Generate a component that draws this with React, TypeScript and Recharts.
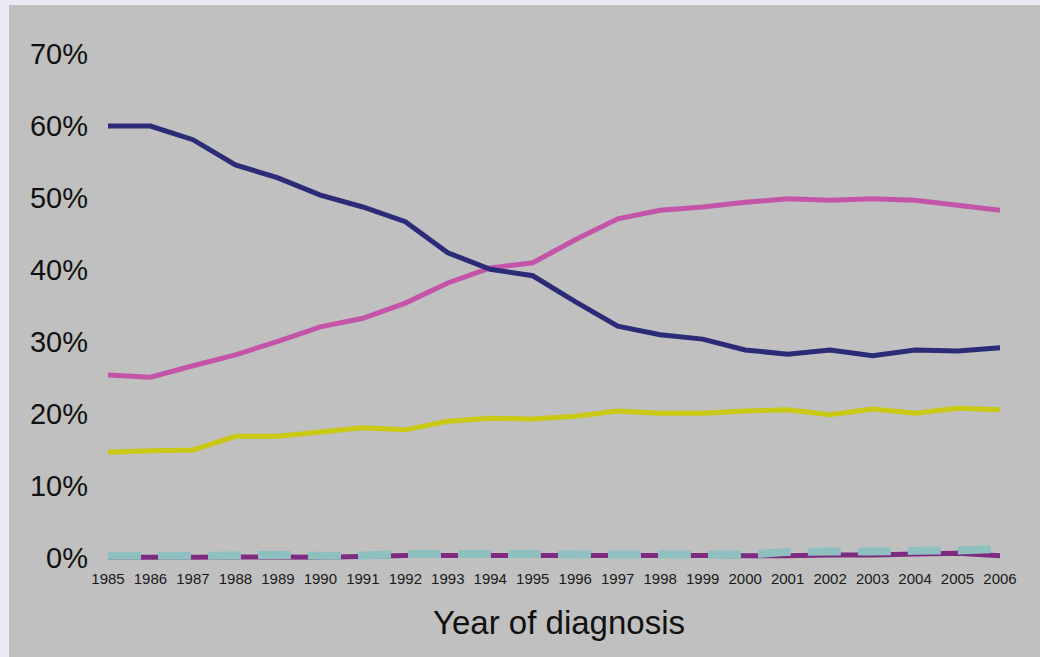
import React from "react";
import { LineChart, Line, XAxis, YAxis } from "recharts";

const years = [
  "1985", "1986", "1987", "1988", "1989", "1990", "1991", "1992", "1993", "1994", "1995",
  "1996", "1997", "1998", "1999", "2000", "2001", "2002", "2003", "2004", "2005", "2006",
];
const navySeries = [60.0, 60.0, 58.1, 54.6, 52.8, 50.4, 48.75, 46.7, 42.4, 40.1, 39.2, 35.6, 32.2, 31.0, 30.4, 28.9, 28.3, 28.9, 28.1, 28.9, 28.75, 29.2];
const pinkSeries = [25.4, 25.1, 26.7, 28.2, 30.1, 32.1, 33.3, 35.4, 38.2, 40.3, 41.0, 44.2, 47.1, 48.3, 48.75, 49.4, 49.9, 49.7, 49.9, 49.7, 49.0, 48.3];
const yellowSeries = [14.7, 14.9, 15.0, 16.9, 16.9, 17.5, 18.1, 17.8, 19.0, 19.4, 19.3, 19.7, 20.4, 20.1, 20.1, 20.4, 20.6, 19.9, 20.7, 20.1, 20.8, 20.6];
const purpleSeries = [0.1, 0.1, 0.1, 0.15, 0.15, 0.1, 0.2, 0.35, 0.35, 0.35, 0.35, 0.35, 0.35, 0.35, 0.35, 0.3, 0.3, 0.4, 0.4, 0.55, 0.65, 0.3];
const cyanSeries = [0.3, 0.3, 0.3, 0.35, 0.45, 0.3, 0.35, 0.55, 0.55, 0.55, 0.55, 0.5, 0.5, 0.5, 0.5, 0.45, 0.85, 0.9, 0.9, 1.0, 1.05, 1.25];
const yTicks = [0, 10, 20, 30, 40, 50, 60, 70];
const xTitle = "Year of diagnosis";

const data = years.map((year, i) => ({
  year,
  navy: navySeries[i],
  pink: pinkSeries[i],
  yellow: yellowSeries[i],
  purple: purpleSeries[i],
  cyan: cyanSeries[i],
}));

const FONT = "'Liberation Sans', Arial, sans-serif";

const XTick = (props: any) => {
  const { x, y, payload } = props;
  return (
    <text x={x} y={y + 26} textAnchor="middle" fontFamily={FONT} fontSize={15} fill="#1a1a1a">
      {payload.value}
    </text>
  );
};

const YTick = (props: any) => {
  const { x, y, payload } = props;
  return (
    <text x={x - 20} y={y + 10} textAnchor="end" fontFamily={FONT} fontSize={29} fill="#111">
      {payload.value}%
    </text>
  );
};

const XTitle = (props: any) => {
  const vb = props.viewBox || {};
  return (
    <text
      x={vb.x + vb.width / 2 + 5}
      y={vb.y + 76}
      textAnchor="middle"
      fontFamily={FONT}
      fontSize={33}
      fill="#111"
    >
      {xTitle}
    </text>
  );
};

export default function App() {
  return (
    <div style={{ position: "fixed", left: 0, top: 0, width: 1040, height: 657, background: "#eaeaf4" }}>
      <div style={{ position: "absolute", left: 9, top: 5, width: 1031, height: 652, background: "#c0c0c0" }} />
      <div style={{ position: "absolute", left: 0, top: 0 }}>
        <LineChart width={1040} height={657} data={data} margin={{ top: 54, right: 40, bottom: 0, left: 0 }}>
          <XAxis
            dataKey="year"
            height={99}
            axisLine={false}
            tickLine={false}
            tickSize={0}
            tickMargin={0}
            interval={0}
            tick={<XTick />}
            label={<XTitle />}
          />
          <YAxis
            width={108}
            domain={[0, 70]}
            ticks={yTicks}
            axisLine={false}
            tickLine={false}
            tickSize={0}
            tickMargin={0}
            tick={<YTick />}
          />
          <Line dataKey="yellow" stroke="#c9c814" strokeWidth={5} dot={false} isAnimationActive={false} />
          <Line dataKey="pink" stroke="#c354a8" strokeWidth={5} dot={false} isAnimationActive={false} />
          <Line dataKey="navy" stroke="#2b2b78" strokeWidth={5} dot={false} isAnimationActive={false} />
          <Line dataKey="purple" stroke="#7e2a80" strokeWidth={5} dot={false} isAnimationActive={false} />
          <Line
            dataKey="cyan"
            stroke="#8ec0c0"
            strokeWidth={8}
            strokeDasharray="33 17"
            dot={false}
            isAnimationActive={false}
          />
        </LineChart>
      </div>
    </div>
  );
}
